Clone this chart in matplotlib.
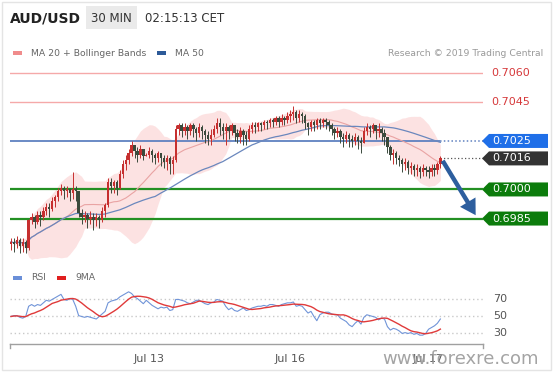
import numpy as np
import pandas as pd
import matplotlib
matplotlib.use("Agg")
import matplotlib.pyplot as plt
from matplotlib.patches import Rectangle, Polygon
from matplotlib import transforms

# AUD/USD 30 min bars, prices in pips above 0.6900
close_pips = [
    73, 72, 74, 71, 73, 70, 84, 86, 83, 87,
    86, 89, 91, 90, 94, 96, 99, 101, 99, 100,
    98, 100, 99, 88, 86, 87, 85, 86, 84, 86,
    84, 89, 92, 104, 102, 104, 101, 108, 113, 115,
    119, 123, 120, 118, 121, 117, 118, 120, 118, 116,
    119, 116, 114, 116, 113, 115, 131, 133, 130, 132,
    130, 133, 131, 129, 132, 130, 128, 126, 128, 131,
    134, 132, 130, 132, 130, 133, 129, 127, 130, 128,
    126, 131, 133, 132, 134, 133, 135, 134, 136, 135,
    137, 135, 137, 136, 138, 139, 140, 137, 139, 138,
    134, 132, 135, 133, 136, 134, 136, 135, 133, 131,
    129, 130, 127, 126, 128, 126, 125, 127, 125, 124,
    130, 132, 131, 133, 130, 131, 129, 127, 122, 118,
    119, 116, 115, 113, 114, 111, 112, 110, 111, 109,
    111, 110, 109, 111, 110, 113, 116]
high_pips = [
    75, 75, 76, 75, 75, 74, 85, 88, 87, 89,
    89, 91, 93, 93, 96, 97, 101, 103, 102, 102,
    101, 109, 102, 99, 90, 89, 88, 89, 88, 88,
    87, 91, 93, 106, 106, 105, 105, 110, 115, 118,
    121, 125, 123, 122, 123, 121, 119, 122, 121, 119,
    120, 119, 118, 118, 117, 117, 133, 134, 134, 134,
    133, 134, 134, 132, 134, 133, 131, 130, 131, 133,
    137, 137, 134, 134, 133, 134, 133, 131, 132, 131,
    130, 133, 135, 135, 135, 135, 136, 136, 137, 137,
    138, 138, 139, 138, 140, 141, 143, 141, 141, 140,
    139, 135, 136, 136, 137, 137, 137, 137, 136, 134,
    132, 132, 131, 129, 130, 129, 128, 129, 128, 127,
    132, 134, 133, 134, 133, 134, 132, 131, 127, 123,
    121, 120, 118, 116, 116, 115, 114, 113, 113, 112,
    113, 112, 112, 113, 113, 114, 117]
low_pips = [
    69, 68, 70, 67, 68, 67, 69, 82, 80, 82,
    81, 84, 87, 86, 89, 91, 94, 97, 95, 96,
    94, 95, 94, 86, 82, 83, 80, 82, 79, 81,
    80, 83, 86, 91, 98, 98, 97, 100, 106, 110,
    113, 117, 116, 114, 116, 115, 117, 116, 114, 113,
    114, 112, 111, 110, 108, 108, 114, 128, 127, 128,
    126, 128, 127, 125, 127, 126, 124, 123, 123, 127,
    129, 128, 126, 123, 126, 128, 125, 124, 124, 123,
    123, 125, 129, 129, 130, 130, 131, 131, 132, 132,
    133, 132, 133, 133, 134, 135, 136, 134, 135, 134,
    131, 128, 130, 130, 131, 131, 132, 131, 130, 128,
    126, 127, 124, 122, 124, 122, 122, 123, 121, 119,
    124, 128, 127, 129, 126, 127, 125, 123, 119, 115,
    113, 113, 112, 109, 110, 108, 108, 107, 107, 106,
    107, 107, 106, 107, 107, 108, 111]
first_open_pips = 72

rsi_values = [
    50, 51, 51, 49, 48, 50, 62, 64, 62, 64,
    63, 66, 69, 68, 70, 72, 74, 76, 70, 69,
    71, 70, 62, 51, 50, 49, 50, 49, 48, 47,
    50, 53, 56, 66, 68, 69, 70, 73, 75, 77,
    79, 77, 73, 71, 68, 65, 69, 66, 63, 61,
    59, 61, 60, 61, 57, 58, 70, 70, 69, 68,
    66, 65, 67, 69, 69, 67, 65, 64, 66, 67,
    70, 69, 68, 62, 58, 60, 57, 56, 58, 60,
    57, 58, 60, 61, 62, 62, 63, 62, 64, 64,
    63, 62, 64, 65, 66, 66, 67, 62, 63, 62,
    58, 54, 56, 50, 45, 52, 54, 55, 55, 53,
    52, 52, 48, 46, 44, 40, 38, 42, 45, 41,
    49, 52, 51, 50, 49, 46, 48, 47, 38, 34,
    36, 35, 33, 30, 31, 30, 31, 29, 30, 28,
    28, 30, 35, 37, 39, 42, 47]

tick_pos = [47, 95, 142]
tick_labels = ["Jul 13", "Jul 16", "Jul 17"]

red_levels = [0.7060, 0.7045]
blue_level = 0.7025
green_levels = [0.7000, 0.6985]
target_level = 0.6985
rsi_levels = [70, 50, 30]

# build the OHLC frame
df = pd.DataFrame({
    "close": 0.69 + np.array(close_pips) / 10000,
    "high": 0.69 + np.array(high_pips) / 10000,
    "low": 0.69 + np.array(low_pips) / 10000,
})
df["open"] = df["close"].shift(1).fillna(0.69 + first_open_pips / 10000)
df["ma20"] = df["close"].rolling(20, min_periods=1).mean()
sd = df["close"].rolling(20, min_periods=2).std(ddof=0).fillna(0)
df["bb_up"] = df["ma20"] + 2 * sd
df["bb_lo"] = df["ma20"] - 2 * sd
df["ma50"] = df["close"].rolling(50, min_periods=1).mean()
rsi = pd.Series(rsi_values, dtype=float)
rsi_ma = rsi.rolling(9, min_periods=1).mean()
idx = np.arange(len(df))
last = idx[-1]
last_close = df["close"].iloc[-1]

W, H = 553, 375
fig = plt.figure(figsize=(W / 100, H / 100), dpi=100)
fig.patch.set_facecolor("white")


def fx(p):
    return p / W


def fy(p):
    return 1 - p / H


xlim = (-0.34, 160.5)

# ---- main price panel
ax = fig.add_axes([fx(10), fy(262), fx(473), 200 / H])
ax.set_xlim(*xlim)
ax.set_ylim(0.69626, 0.70657)
ax.axis("off")

ax.fill_between(idx, df["bb_lo"], df["bb_up"], color="#fcd9d9", alpha=0.75, lw=0, zorder=1)
ax.plot(idx, df["ma20"], color="#e9a3a3", lw=0.8, zorder=2)
ax.plot(idx, df["ma50"], color="#6a87bd", lw=0.9, zorder=2)

for lv in red_levels:
    ax.axhline(lv, color="#f5a9a9", lw=1.0, zorder=1.5)
for lv in green_levels:
    ax.axhline(lv, color="#239023", lw=1.6, zorder=1.5)
ax.hlines(blue_level, xlim[0], last, color="#5f81c0", lw=1.3, zorder=1.5)
ax.hlines(blue_level, last, xlim[1], color="#5f81c0", lw=1.1, linestyle=(0, (1, 1.5)), zorder=1.5)
ax.hlines(last_close, last, xlim[1], color="#555555", lw=0.9, linestyle=(0, (1, 1.8)), zorder=1.5)

# candles: red = up, dark = down
up = df["close"] >= df["open"]
colors = np.where(up, "#c62f2f", "#3a4a3c")
ax.vlines(idx, df["low"], df["high"], colors=colors, lw=0.7, zorder=3)
body = (df["close"] - df["open"]).abs().clip(lower=0.00003)
ax.bar(idx, body, bottom=np.minimum(df["open"], df["close"]), width=0.8,
       color=colors, lw=0, zorder=4)

# forecast arrow towards the target
ax.annotate("", xy=(last + 12.5, target_level + 0.00005), xytext=(last + 0.3, last_close),
            arrowprops=dict(arrowstyle="simple,head_width=1.3,head_length=1.1,tail_width=0.32",
                            mutation_scale=10, color="#2d5e9e", lw=0),
            zorder=6, annotation_clip=False)

# price labels on the right
bt = transforms.blended_transform_factory(fig.transFigure, ax.transData)
hh = 7 / 19400


def tag(level, color):
    pts = [(fx(482), level), (fx(489), level + hh), (fx(548), level + hh),
           (fx(548), level - hh), (fx(489), level - hh)]
    ax.add_patch(Polygon(pts, closed=True, transform=bt, color=color, lw=0, clip_on=False))
    ax.text(fx(492), level, f"{level:.4f}", transform=bt, color="white", fontsize=8,
            va="center", ha="left", clip_on=False)


for lv in red_levels:
    ax.text(fx(491), lv, f"{lv:.4f}", transform=bt, color="#d6393b", fontsize=8,
            va="center", ha="left")
tag(blue_level, "#1f6fe8")
tag(last_close, "#333333")
for lv in green_levels:
    tag(lv, "#0c7c0c")

# ---- RSI panel
rax = fig.add_axes([fx(10), fy(344), fx(473), 59 / H])
rax.set_xlim(*xlim)
rax.set_ylim(17.6, 87)
for s in ["top", "left", "right"]:
    rax.spines[s].set_visible(False)
rax.spines["bottom"].set_color("#a0a0a0")
rax.spines["bottom"].set_linewidth(1.0)
rax.set_yticks([])
rax.set_xticks(tick_pos)
rax.set_xticklabels(tick_labels)
rax.tick_params(axis="x", length=0, pad=7, labelsize=8, labelcolor="#555555")
rax.patch.set_alpha(0)
for lv in rsi_levels:
    rax.axhline(lv, color="#c9c9c9", lw=1.0, linestyle=(0, (1, 2)))
    rax.text(fx(493), lv, str(lv), transform=transforms.blended_transform_factory(fig.transFigure, rax.transData),
             color="#555555", fontsize=8, va="center", ha="left")
rax.plot(idx, rsi, color="#7094d8", lw=0.8)
rax.plot(idx, rsi_ma, color="#e03a3a", lw=1.0)
tb = transforms.blended_transform_factory(rax.transData, rax.transAxes)
for xe in xlim:
    rax.plot([xe, xe], [0, -4 / 59], transform=tb, color="#a0a0a0", lw=1.0, clip_on=False)

# ---- header, legends, frame
fig.patches.append(Rectangle((fx(2), fy(370)), fx(549), 368 / H, transform=fig.transFigure,
                             fill=False, edgecolor="#e4e4e4", lw=1.0))
fig.text(fx(10), fy(18), "AUD/USD", fontsize=10, fontweight="bold", color="#222222", va="center")
fig.patches.append(Rectangle((fx(86), fy(29)), fx(51), 23 / H, transform=fig.transFigure,
                             color="#eaeaea", lw=0))
fig.text(fx(111.5), fy(18), "30 MIN", fontsize=8.5, color="#333333", va="center", ha="center")
fig.text(fx(145), fy(18), "02:15:13 CET", fontsize=8.5, color="#333333", va="center")

legend_items = [(13, 53, "#f08c8c", "MA 20 + Bollinger Bands"), (157, 53, "#2d5a98", "MA 50"),
                (13, 278, "#6a8fd8", "RSI"), (57, 278, "#e01f1f", "9MA")]
for x0, y0, col, lab in legend_items:
    fig.patches.append(Rectangle((fx(x0), fy(y0 + 2)), fx(9), 4 / H, transform=fig.transFigure,
                                 color=col, lw=0))
    fig.text(fx(x0 + 18), fy(y0), lab, fontsize=6.7, color="#666666", va="center")

fig.text(fx(543), fy(53), "Research \u00a9 2019 Trading Central", fontsize=6.7, color="#999999",
         va="center", ha="right")
# watermark sits over the "Jul 17" label, as in the source image
fig.text(fx(382), fy(359), "www.forexre.com", fontsize=13, color="#9a9a9a", alpha=0.9,
         va="center", ha="left")

fig.savefig("out.png", dpi=100)
